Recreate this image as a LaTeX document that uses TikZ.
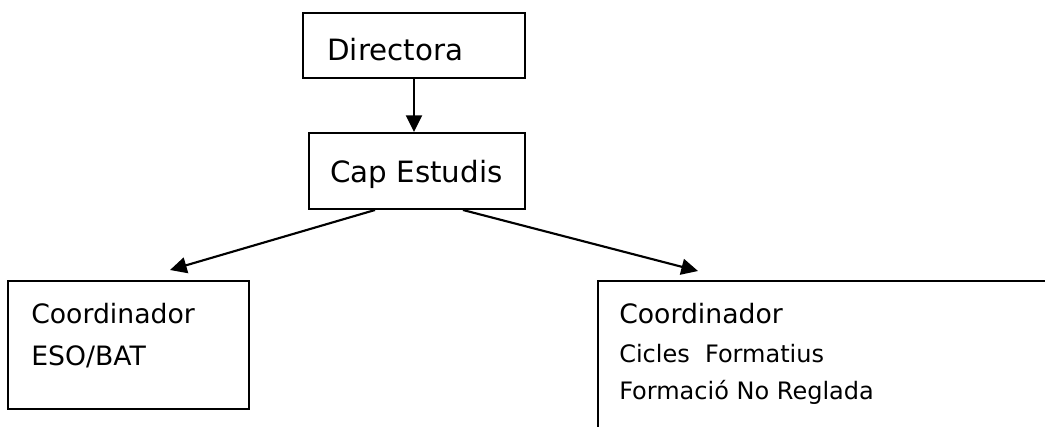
\documentclass[tikz,border=0pt]{standalone}
\usepackage{fontspec}
\setmainfont{DejaVu Sans}
\usetikzlibrary{arrows.meta}

\tikzset{
    box/.style={draw, rectangle, line width=1.5pt, inner sep=0pt},
    txt/.style={anchor=base west, inner sep=0pt},
    link/.style={line width=1.6pt, -{Triangle[length=12.5pt, width=12pt]}}
}

\begin{document}
\begin{tikzpicture}[x=0.75pt, y=-0.75pt]
    % Page frame
    \clip (0, 0) rectangle (1045, 426);

    % Arrow tips
    \coordinate (tipL) at (170, 270);
    \coordinate (tipR) at (698, 271);

    % Boxes
    \node[box, minimum width=166.5pt, minimum height=48.75pt] (dir) at (414, 45.5) {};
    \node[box, minimum width=162pt, minimum height=57pt] (cap) at (417, 171) {};
    \node[box, minimum width=180.75pt, minimum height=96pt] (eso) at (128.5, 345) {};
    \node[box, minimum width=376.5pt, minimum height=149.25pt] (cf) at (849, 380.5) {};

    % Texts
    \node[txt, font=\fontsize{22}{26}\selectfont] (dirtxt) at (327, 60) {Directora};
    \node[txt, font=\fontsize{22}{26}\selectfont] (captxt) at (330, 182) {Cap Estudis};
    \node[txt, font=\fontsize{20}{24}\selectfont] (esoA) at (31, 323) {Coordinador};
    \node[txt, font=\fontsize{20}{24}\selectfont] (esoB) at (31, 365) {ESO/BAT};
    \node[txt, font=\fontsize{20}{24}\selectfont] (cfA) at (619, 323) {Coordinador};
    \node[txt, font=\fontsize{18}{22}\selectfont] (cfB) at (619, 362) {Cicles\ \ Formatius};
    \node[txt, font=\fontsize{18}{22}\selectfont] (cfC) at (619, 399) {Formació No Reglada};

    % Arrows
    \draw[link] (dir.south) -- (dir.south |- cap.north);
    \draw[link] ([shift={(-42, 0)}]cap.south) -- (tipL);
    \draw[link] ([shift={(46, 0)}]cap.south) -- (tipR);
\end{tikzpicture}
\end{document}
